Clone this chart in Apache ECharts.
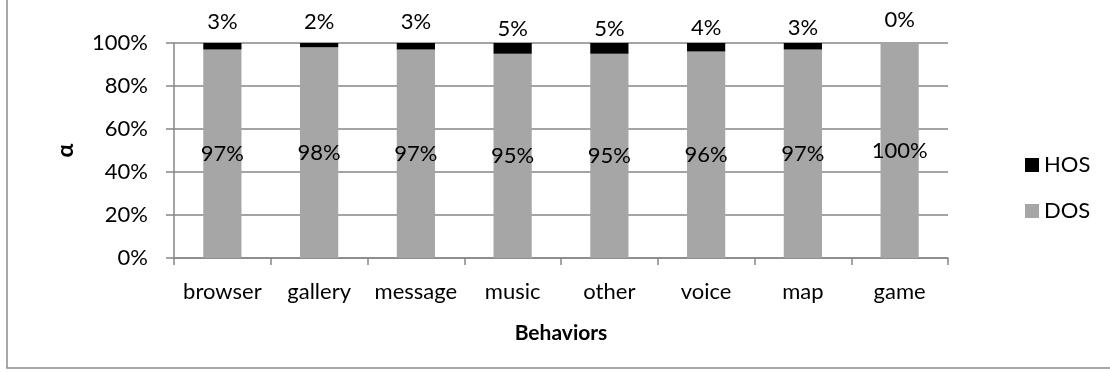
<!DOCTYPE html>
<html>
<head>
<meta charset="utf-8">
<script src="https://cdn.jsdelivr.net/npm/echarts@6/dist/echarts.min.js"></script>
<style>
html,body{margin:0;padding:0;background:#fff;}
#c{width:1110px;height:372px;}
</style>
</head>
<body>
<div id="c"></div>
<script>
const categories = ['browser','gallery','message','music','other','voice','map','game'];
const dosValues = [97, 98, 97, 95, 95, 96, 97, 100];
const hosValues = [3, 2, 3, 5, 5, 4, 3, 0];
const yTicks = [0, 20, 40, 60, 80, 100];
// label lift above stack top for HOS labels (style)
const hosLabelDist = [10, 10, 10, 3, 3, 4, 4, 12];

const FONT = 'Lato';
const chart = echarts.init(document.getElementById('c'), null, {renderer:'canvas'});
const option = {
  animation: false,
  backgroundColor: '#fff',
  textStyle: {fontFamily: FONT},
  graphic: [{
    type: 'rect', silent: true, z: -1,
    shape: {x: 7, y: -20, width: 1200, height: 388},
    style: {fill: 'none', stroke: '#8c8c8c', lineWidth: 1.5}
  }],
  grid: {left: 174, right: 162, top: 43, bottom: 114, containLabel: false},
  legend: {
    data: ['HOS', 'DOS'],
    orient: 'vertical',
    left: 1020, top: 149,
    itemWidth: 14, itemHeight: 14, itemGap: 24,
    icon: 'rect',
    textStyle: {fontFamily: FONT, fontSize: 22, color: '#000'}
  },
  xAxis: {
    type: 'category',
    data: categories,
    name: 'Behaviors',
    nameLocation: 'middle',
    nameGap: 65,
    nameTextStyle: {fontFamily: FONT, fontSize: 21, fontWeight: 'bold', color: '#000'},
    axisLine: {show: true, lineStyle: {color: '#868686', width: 1.5}},
    axisTick: {show: true, alignWithLabel: false, length: 7, lineStyle: {color: '#868686', width: 1.5}},
    axisLabel: {fontFamily: FONT, fontSize: 22, color: '#000', margin: 23, interval: 0},
    splitLine: {show: false}
  },
  yAxis: {
    type: 'value',
    min: 0, max: 100, interval: 20,
    name: 'α',
    nameLocation: 'middle',
    nameGap: 97,
    nameRotate: 90,
    nameTextStyle: {fontFamily: FONT, fontSize: 23, fontWeight: 'bold', color: '#000'},
    axisLine: {show: true, lineStyle: {color: '#868686', width: 1.5}},
    axisTick: {show: true, length: 8, inside: false, lineStyle: {color: '#868686', width: 1.5}},
    axisLabel: {fontFamily: FONT, fontSize: 22, color: '#000', margin: 26,
      formatter: v => yTicks.includes(v) ? v + '%' : ''},
    splitLine: {show: true, lineStyle: {color: '#868686', width: 1.5}}
  },
  series: [
    {
      name: 'DOS', type: 'bar', stack: 'a',
      data: dosValues,
      barWidth: '39.5%',
      itemStyle: {color: '#a6a6a6'},
      label: {show: true, position: 'inside', formatter: p => p.value + '%',
        fontFamily: FONT, fontSize: 22, color: '#000'}
    },
    {
      name: 'HOS', type: 'bar', stack: 'a',
      data: hosValues.map((v, i) => ({
        value: v,
        label: {distance: hosLabelDist[i]}
      })),
      itemStyle: {color: '#000'},
      label: {show: true, position: 'top', formatter: p => p.value + '%',
        fontFamily: FONT, fontSize: 22, color: '#000'}
    }
  ]
};
chart.setOption(option);
</script>
</body>
</html>
